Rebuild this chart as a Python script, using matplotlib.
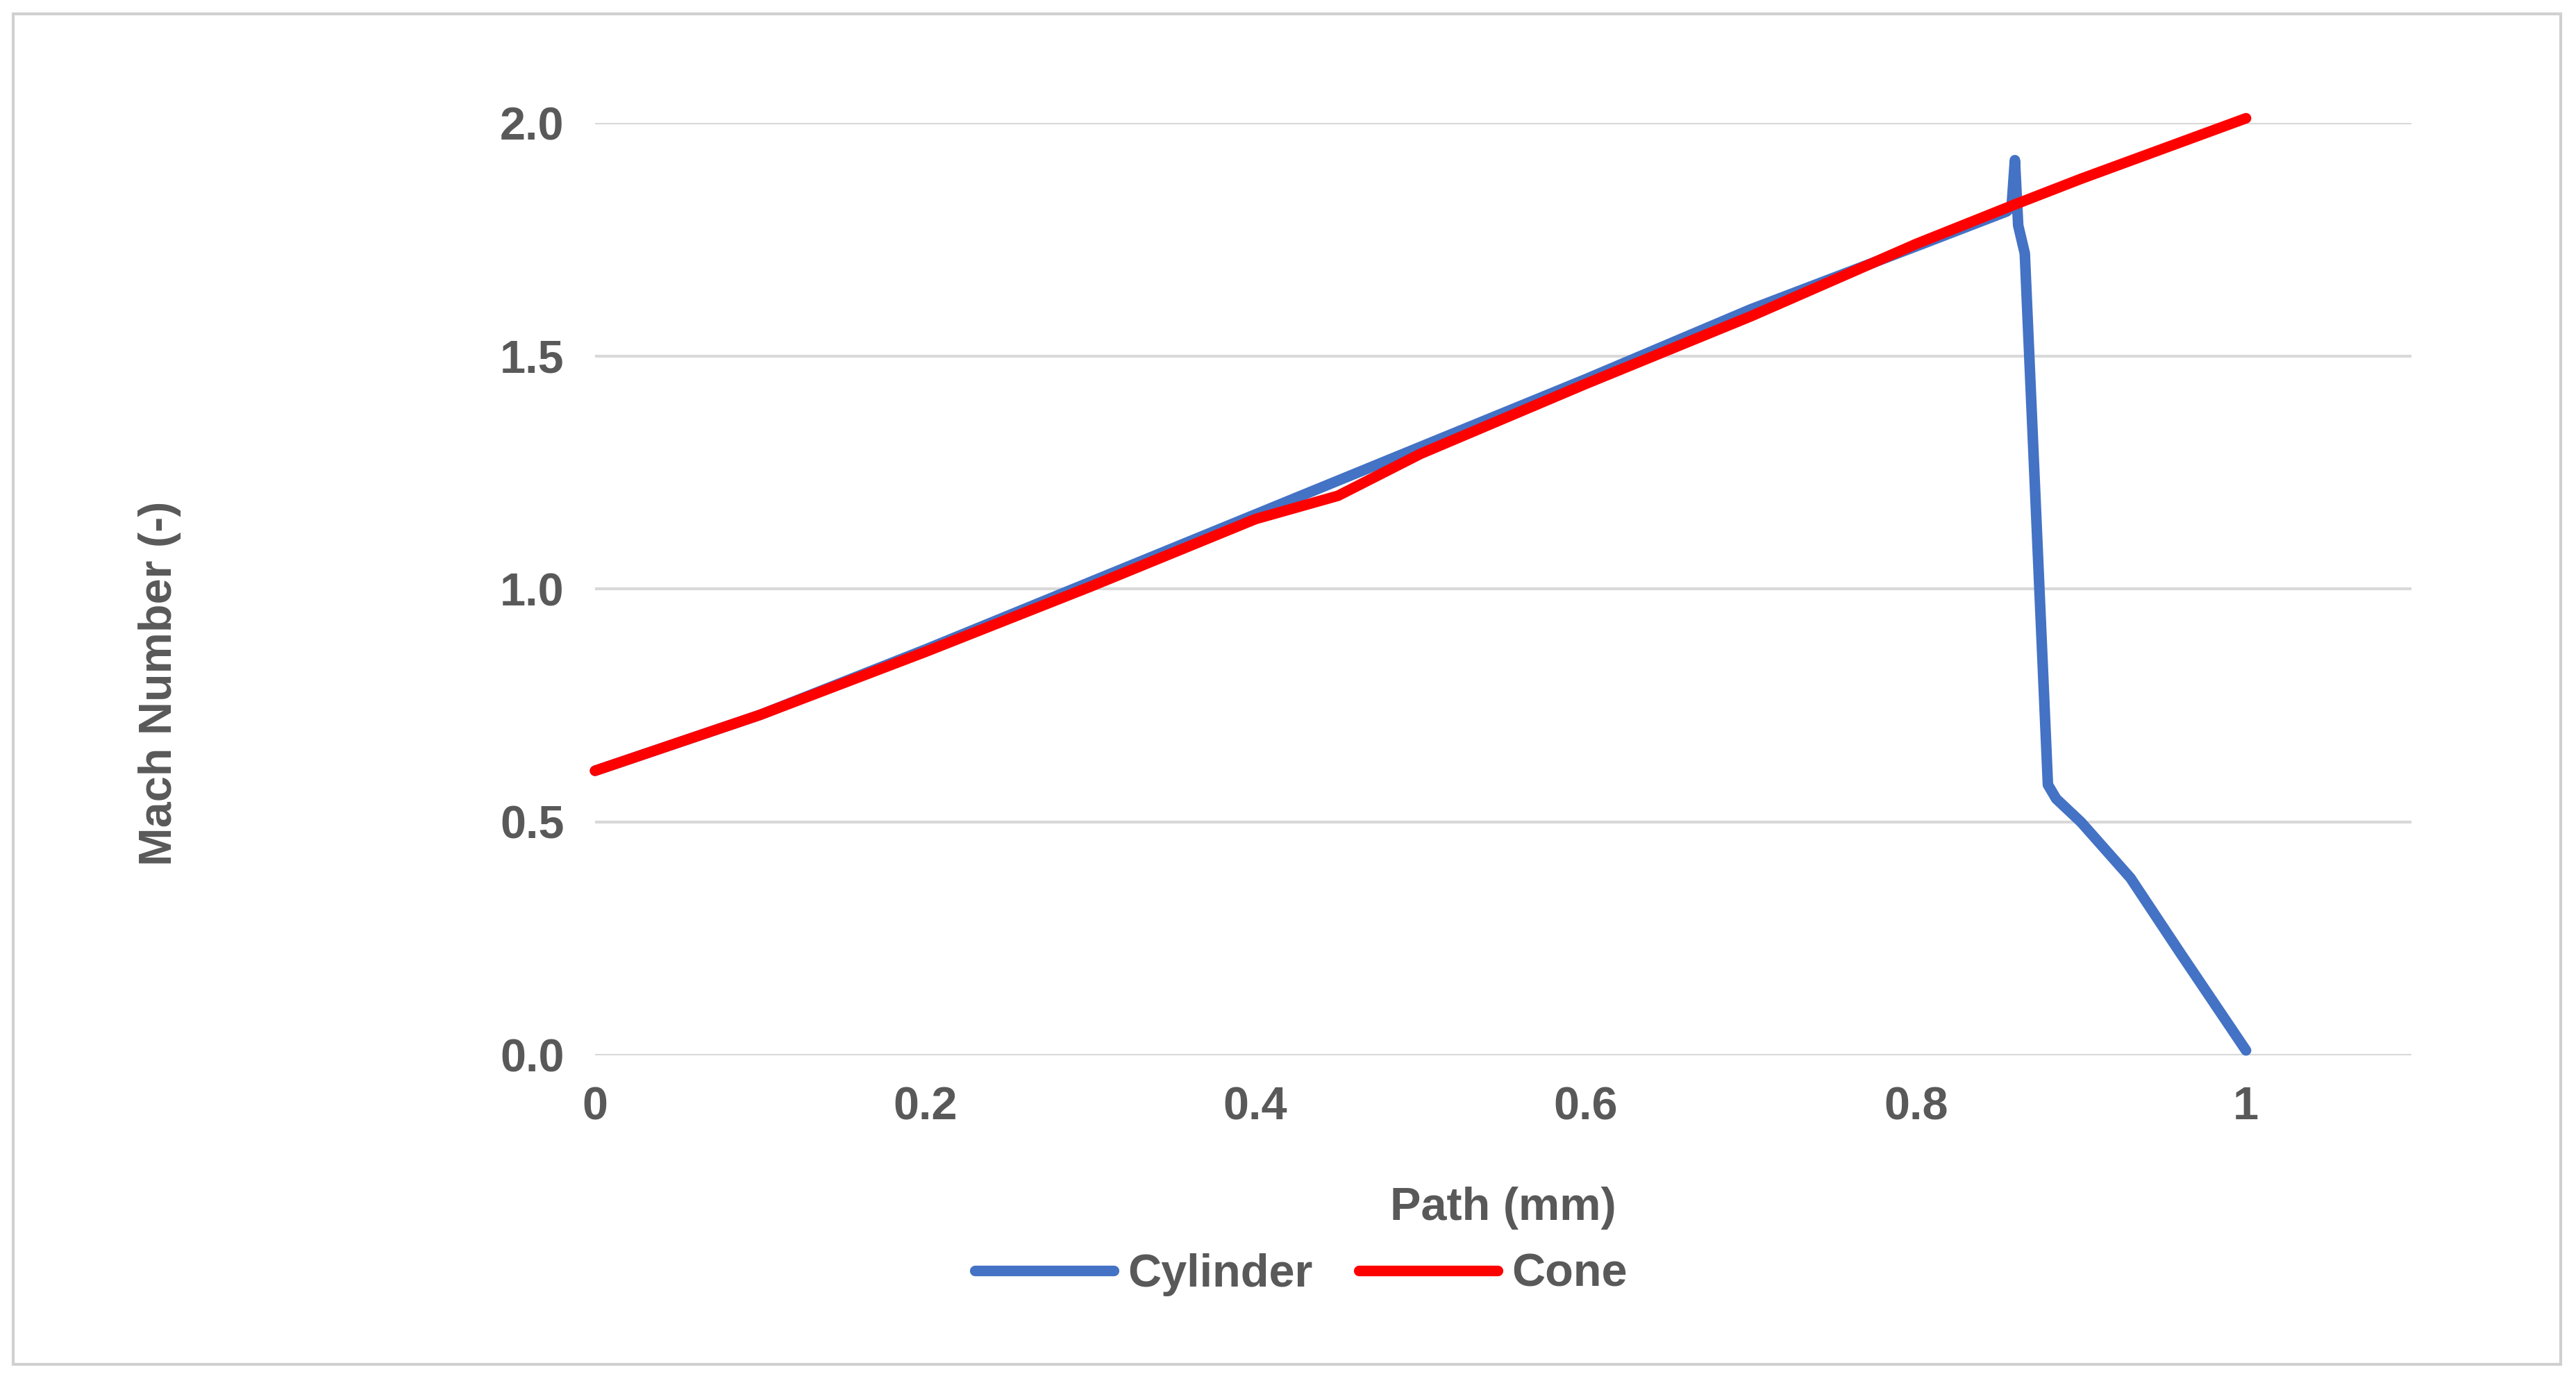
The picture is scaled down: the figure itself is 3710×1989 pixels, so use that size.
import matplotlib
matplotlib.use("Agg")
import matplotlib.pyplot as plt
from matplotlib.patches import Rectangle

cone_x = [0, 0.1, 0.2, 0.3, 0.4, 0.45, 0.5, 0.6, 0.7, 0.8, 0.86, 0.9, 0.95, 1.0]
cone_y = [0.61, 0.73, 0.865, 1.005, 1.15, 1.2, 1.29, 1.44, 1.585, 1.74, 1.825, 1.88, 1.945, 2.01]
cyl_x = [0, 0.1, 0.2, 0.3, 0.4, 0.5, 0.6, 0.7, 0.8, 0.855, 0.858, 0.86, 0.862, 0.866, 0.88, 0.885, 0.9, 0.93, 0.96, 1.0]
cyl_y = [0.61, 0.73, 0.87, 1.015, 1.16, 1.305, 1.45, 1.6, 1.735, 1.81, 1.82, 1.92, 1.78, 1.72, 0.58, 0.55, 0.5, 0.38, 0.22, 0.01]

grey = "#595959"
plt.rcParams['font.family'] = ['Liberation Sans', 'DejaVu Sans']
fig = plt.figure(figsize=(18.55, 9.945), dpi=200)
fig.patches.append(Rectangle((0.005, 0.012), 0.989, 0.978, transform=fig.transFigure,
                             fill=False, edgecolor="#d0d0d0", lw=1.5))
ax = fig.add_axes([0.231, 0.236, 0.705, 0.675])
ax.plot(cyl_x, cyl_y, color="#4472C4", lw=5.5, label="Cylinder", clip_on=False, solid_capstyle="round")
ax.plot(cone_x, cone_y, color="#FF0000", lw=5.5, label="Cone", clip_on=False, solid_capstyle="round")
ax.set_xlim(0, 1.1)
ax.set_ylim(0, 2.0)
ax.set_yticks([0, 0.5, 1.0, 1.5, 2.0])
ax.set_yticklabels(["0.0", "0.5", "1.0", "1.5", "2.0"])
ax.set_xticks([0, 0.2, 0.4, 0.6, 0.8, 1])
ax.set_xticklabels(["0", "0.2", "0.4", "0.6", "0.8", "1"])
ax.grid(axis="y", color="#d9d9d9", lw=1.5)
ax.set_axisbelow(True)
for s in ax.spines.values():
    s.set_visible(False)
ax.tick_params(length=0, labelsize=24, labelcolor=grey, pad=16)
for t in ax.get_xticklabels() + ax.get_yticklabels():
    t.set_fontweight("bold")
ax.set_xlabel("Path (mm)", fontsize=24, color=grey, fontweight="bold", labelpad=30)
fig.text(0.062, 0.505, "Mach Number (-)", rotation=90, fontsize=24, color=grey,
         fontweight="bold", ha="center", va="center")
leg = fig.legend(loc="center", bbox_to_anchor=(0.505, 0.077), ncol=2, frameon=False,
                 fontsize=24, handlelength=3, columnspacing=1.0, handletextpad=0.3)
for t in leg.get_texts():
    t.set_color(grey); t.set_fontweight("bold")
fig.savefig("out.png", dpi=200)
